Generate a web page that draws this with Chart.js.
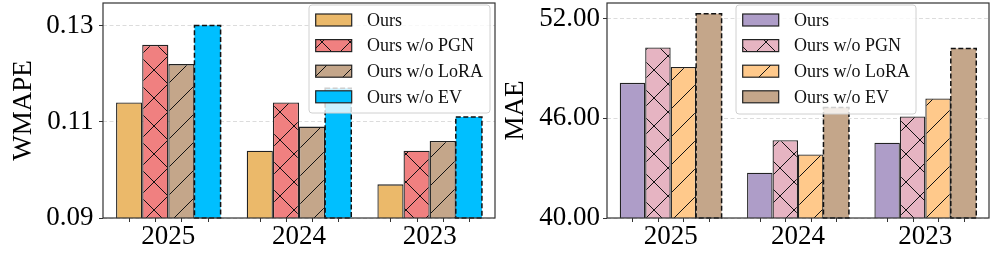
<!DOCTYPE html>
<html>
<head>
<meta charset="utf-8">
<script src="https://cdn.jsdelivr.net/npm/chart.js@4.4.1/dist/chart.umd.min.js"></script>
<style>
  html, body { margin: 0; padding: 0; background: #fff; }
  #wrap { position: relative; width: 996px; height: 254px; }
  .panel { position: absolute; top: 0; height: 254px; }
</style>
</head>
<body>
<div id="wrap">
  <div class="panel" style="left:0;width:500px"><canvas id="wmapeChart"></canvas></div>
  <div class="panel" style="left:500px;width:496px"><canvas id="maeChart"></canvas></div>
</div>
<script>
// ---- data ----
const years = ['2025', '2024', '2023'];
const seriesNames = ['Ours', 'Ours w/o PGN', 'Ours w/o LoRA', 'Ours w/o EV'];

const wmapeOurs   = [0.114, 0.104, 0.097];
const wmapeNoPGN  = [0.126, 0.114, 0.104];
const wmapeNoLoRA = [0.122, 0.109, 0.106];
const wmapeNoEV   = [0.130, 0.117, 0.111];
const wmapeTicks  = [0.09, 0.11, 0.13];

const maeOurs   = [48.14, 42.73, 44.53];
const maeNoPGN  = [50.27, 44.69, 46.12];
const maeNoLoRA = [49.10, 43.83, 47.20];
const maeNoEV   = [52.30, 46.66, 50.21];
const maeTicks  = [40, 46, 52];

const SERIF = '"Liberation Serif", "Times New Roman", serif';
const EDGE = '#222';

// matplotlib-like hatch tile ('/' or 'x')
function hatch(ctx, bg, kind) {
  const s = 28;
  const c = document.createElement('canvas');
  c.width = c.height = s;
  const g = c.getContext('2d');
  g.fillStyle = bg;
  g.fillRect(0, 0, s, s);
  if (kind) {
    g.strokeStyle = '#111';
    g.lineWidth = 1;
    g.beginPath();
    for (const k of [-s, 0, s]) {
      g.moveTo(0, s + k); g.lineTo(s, k);
      if (kind === 'x') { g.moveTo(0, k); g.lineTo(s, s + k); }
    }
    g.stroke();
  }
  return ctx.createPattern(c, 'repeat');
}

// frame, bar ticks, dashed edges and the legend box
const extras = {
  id: 'extras',
  afterDatasetsDraw(chart) {
    const ctx = chart.ctx, a = chart.chartArea;
    ctx.save();
    chart.data.datasets.forEach((ds, i) => {
      chart.getDatasetMeta(i).data.forEach(bar => {
        const p = bar.getProps(['x', 'y', 'base', 'width'], true);
        const bottom = Math.min(p.base, a.bottom);
        if (ds.dashed) {
          ctx.setLineDash([5, 2.5]);
          ctx.lineWidth = 1.5;
          ctx.strokeStyle = '#111';
          ctx.strokeRect(p.x - p.width / 2, p.y, p.width, bottom - p.y);
          ctx.setLineDash([]);
        }
        // small tick under each bar
        ctx.strokeStyle = '#333';
        ctx.lineWidth = 1;
        ctx.beginPath();
        ctx.moveTo(Math.round(p.x) + 0.5, a.bottom);
        ctx.lineTo(Math.round(p.x) + 0.5, a.bottom + 4);
        ctx.stroke();
      });
    });
    ctx.strokeStyle = '#333';
    ctx.lineWidth = 1.2;
    ctx.strokeRect(a.left, a.top, a.right - a.left, a.bottom - a.top);
    ctx.restore();
  },
  afterDraw(chart, args, o) {
    const ctx = chart.ctx, a = chart.chartArea;
    const bx = a.left + o.x, by = o.y;
    ctx.save();
    ctx.beginPath();
    ctx.roundRect(bx, by, o.w, o.h, 3);
    ctx.fillStyle = 'rgba(255,255,255,0.8)';
    ctx.fill();
    ctx.strokeStyle = '#d0d0d0';
    ctx.lineWidth = 1;
    ctx.stroke();
    chart.data.datasets.forEach((ds, i) => {
      const cy = by + 15 + i * 25.6;
      ctx.fillStyle = ds.backgroundColor;
      ctx.fillRect(bx + 6.7, cy - 6, 36, 12);
      ctx.strokeStyle = EDGE;
      ctx.lineWidth = 1.2;
      ctx.strokeRect(bx + 6.7, cy - 6, 36, 12);
      ctx.fillStyle = '#111';
      ctx.font = '18px "Liberation Serif"';
      ctx.textBaseline = 'middle';
      ctx.textAlign = 'left';
      ctx.fillText(ds.label, bx + 58, cy + 1);
    });
    ctx.restore();
  }
};

function makeChart(id, cfg) {
  const ctx = document.getElementById(id).getContext('2d');
  const kinds = [null, 'x', '/', null];
  const datasets = cfg.series.map((vals, i) => ({
    label: seriesNames[i],
    data: vals,
    backgroundColor: hatch(ctx, cfg.colors[i], kinds[i]),
    borderColor: EDGE,
    borderWidth: i === 3 ? 0 : 1.3,
    borderSkipped: false,
    dashed: i === 3,
    categoryPercentage: 0.8,
    barPercentage: 1.0
  }));

  return new Chart(ctx, {
    type: 'bar',
    data: { labels: years, datasets },
    options: {
      responsive: true,
      maintainAspectRatio: false,
      animation: false,
      layout: { padding: { top: 3, right: cfg.padRight, left: 0, bottom: 0 } },
      plugins: {
        legend: { display: false },
        tooltip: { enabled: false },
        extras: cfg.legend
      },
      scales: {
        x: {
          grid: { display: false, drawTicks: false },
          border: { display: false },
          ticks: { font: { family: SERIF, size: 27 }, color: '#000', padding: 3, maxRotation: 0 },
          afterFit: s => { s.height = 36; s.paddingLeft = 0; s.paddingRight = 0; }
        },
        y: {
          min: cfg.min,
          max: cfg.max,
          afterBuildTicks: s => { s.ticks = cfg.ticks.map(v => ({ value: v })); },
          afterFit: s => { s.width = cfg.yWidth; s.paddingTop = 0; s.paddingBottom = 0; },
          grid: { color: '#dcdcdc', lineWidth: 1, drawTicks: true, tickLength: 4, tickColor: '#333', tickBorderDash: [] },
          border: { display: false, dash: [4, 2.5] },
          ticks: {
            font: { family: SERIF, size: 27 },
            color: '#000',
            padding: cfg.tickPad,
            callback: v => Number(v).toFixed(2)
          },
          title: {
            display: true,
            text: cfg.title,
            font: { family: SERIF, size: 27 },
            color: '#000',
            padding: { top: cfg.titlePad, bottom: 0 }
          }
        }
      }
    },
    plugins: [extras]
  });
}

makeChart('wmapeChart', {
  series: [wmapeOurs, wmapeNoPGN, wmapeNoLoRA, wmapeNoEV],
  colors: ['#EBB96A', '#F08080', '#C4A68A', '#00BFFF'],
  ticks: wmapeTicks, min: 0.09, max: 0.1347,
  title: 'WMAPE', titlePad: 8, tickPad: 5.5,
  yWidth: 103, padRight: 5,
  legend: { x: 206, y: 5, w: 181, h: 108 }
});

makeChart('maeChart', {
  series: [maeOurs, maeNoPGN, maeNoLoRA, maeNoEV],
  colors: ['#AE9DC8', '#E6B4C2', '#FFC98B', '#C4A68A'],
  ticks: maeTicks, min: 40, max: 52.95,
  title: 'MAE', titlePad: 0, tickPad: 3,
  yWidth: 107, padRight: 7,
  legend: { x: 129, y: 5, w: 180, h: 109 }
});
</script>
</body>
</html>
